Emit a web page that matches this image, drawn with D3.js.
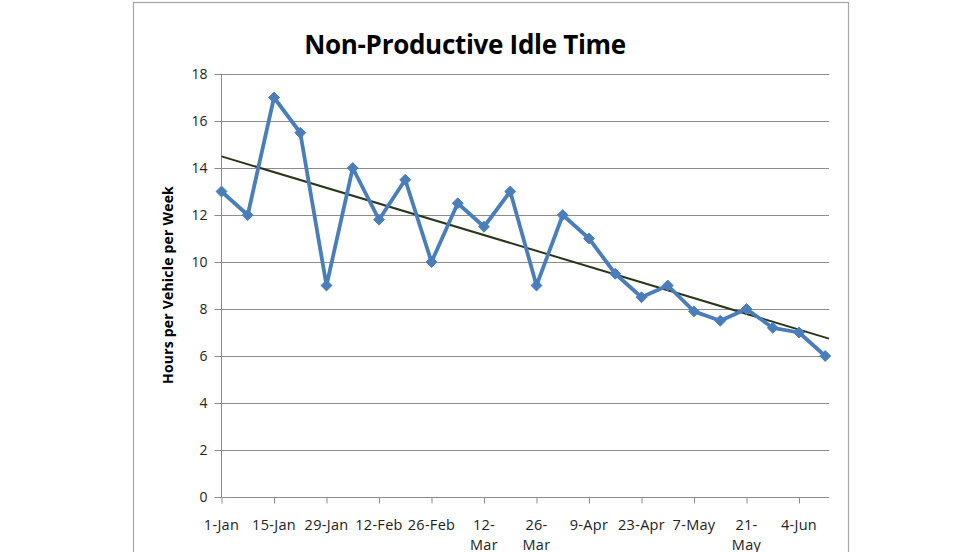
<!DOCTYPE html>
<html><head><meta charset="utf-8">
<script src="https://cdn.jsdelivr.net/npm/d3@7"></script>
<style>body{margin:0;background:#fff}svg{display:block}</style>
</head><body>
<svg id="c" width="980" height="552"></svg>
<script>
const title = "Non-Productive Idle Time";
const yTitle = "Hours per Vehicle per Week";
const dates = ["2010-01-01","2010-01-08","2010-01-15","2010-01-22","2010-01-29","2010-02-05","2010-02-12","2010-02-19","2010-02-26","2010-03-05","2010-03-12","2010-03-19","2010-03-26","2010-04-02","2010-04-09","2010-04-16","2010-04-23","2010-04-30","2010-05-07","2010-05-14","2010-05-21","2010-05-28","2010-06-04","2010-06-11"];
const values = [13,12,17,15.5,9,14,11.8,13.5,10,12.5,11.5,13,9,12,11,9.5,8.5,9,7.9,7.5,8,7.2,7,6];
const tickDates = ["2010-01-01","2010-01-15","2010-01-29","2010-02-12","2010-02-26","2010-03-12","2010-03-26","2010-04-09","2010-04-23","2010-05-07","2010-05-21","2010-06-04"];
const tickLabels = [["1-Jan"],["15-Jan"],["29-Jan"],["12-Feb"],["26-Feb"],["12-","Mar"],["26-","Mar"],["9-Apr"],["23-Apr"],["7-May"],["21-","May"],["4-Jun"]];
const yTicks = [0,2,4,6,8,10,12,14,16,18];
const axisEnd = "2010-06-12";

const parse = d3.utcParse("%Y-%m-%d");
const svg = d3.select("#c");
const font = "'Open Sans', 'Liberation Sans', sans-serif";

// frame
svg.append("rect").attr("x",133.5).attr("y",2.5).attr("width",715).attr("height",560)
  .attr("fill","#fff").attr("stroke","#a6a6a6").attr("stroke-width",1.2);

const x = d3.scaleUtc().domain([parse(dates[0]), parse(axisEnd)]).range([221.5, 829]);
const y = d3.scaleLinear().domain([0,18]).range([497, 74]);

// gridlines
svg.append("g").selectAll("line").data(yTicks.filter(d=>d>0)).join("line")
  .attr("x1",221.5).attr("x2",829).attr("y1",d=>Math.round(y(d))+0.5).attr("y2",d=>Math.round(y(d))+0.5)
  .attr("stroke","#8c8c8c").attr("stroke-width",1);

// y axis
const ya = svg.append("g").attr("transform","translate(221.5,0)")
  .call(d3.axisLeft(y).tickValues(yTicks).tickSize(7).tickPadding(7));
ya.select(".domain").attr("stroke","#8c8c8c").attr("d","M0,"+y(18)+"V"+y(0));
ya.selectAll(".tick line").attr("stroke","#8c8c8c");
ya.selectAll("text").attr("font-family",font).attr("font-size",14).attr("fill","#222");

// x axis
const xa = svg.append("g").attr("transform","translate(0,497.5)")
  .call(d3.axisBottom(x).tickValues(tickDates.map(parse)).tickSize(6).tickFormat(""));
xa.select(".domain").attr("stroke","#8c8c8c").attr("d","M221.5,0H829");
xa.selectAll(".tick line").attr("stroke","#8c8c8c");
const lbl = svg.append("g").selectAll("text").data(tickDates).join("text")
  .attr("x",d=>x(parse(d))).attr("y",530)
  .attr("text-anchor","middle").attr("font-family",font).attr("font-size",14.5).attr("letter-spacing",0.3).attr("fill","#222");
lbl.each(function(d,i){
  const t = d3.select(this);
  tickLabels[i].forEach((s,j)=>{ t.append("tspan").attr("x",x(parse(d))).attr("dy", j===0?0:20).text(s); });
});

// trend line (least squares on week index)
const n = values.length;
const xs = d3.range(n);
const mx = d3.mean(xs), my = d3.mean(values);
const slope = d3.sum(xs,(v,i)=>(v-mx)*(values[i]-my))/d3.sum(xs,v=>(v-mx)*(v-mx));
const icpt = my - slope*mx;
const t0 = parse(dates[0]), t1 = parse(axisEnd);
const wk = 7*86400000;
const w1 = (t1 - t0)/wk;
svg.append("line")
  .attr("x1",x(t0)).attr("y1",y(icpt))
  .attr("x2",x(t1)).attr("y2",y(icpt+slope*w1))
  .attr("stroke","#28361a").attr("stroke-width",2);

// series
const pts = dates.map((d,i)=>({t:parse(d), v:values[i]}));
svg.append("path").datum(pts)
  .attr("d", d3.line().x(d=>x(d.t)).y(d=>y(d.v)))
  .attr("fill","none").attr("stroke","#4a7ebb").attr("stroke-width",3.8).attr("stroke-linejoin","round");
svg.append("g").selectAll("path").data(pts).join("path")
  .attr("transform",d=>`translate(${x(d.t)},${y(d.v)})`)
  .attr("d", d3.symbol(d3.symbolDiamond2, 75)())
  .attr("fill","#4a7ebb").attr("stroke","#4a7ebb").attr("stroke-width",1);

// title
svg.append("text").attr("x",465).attr("y",54).attr("text-anchor","middle")
  .attr("font-family",font).attr("font-weight","bold").attr("font-size",26).attr("letter-spacing",-0.3).attr("fill","#000")
  .text(title);

// y title
svg.append("text").attr("transform","translate(173,285) rotate(-90)").attr("text-anchor","middle")
  .attr("font-family",font).attr("font-weight","bold").attr("font-size",14).attr("letter-spacing",0.2).attr("fill","#000")
  .text(yTitle);
</script>
</body></html>
